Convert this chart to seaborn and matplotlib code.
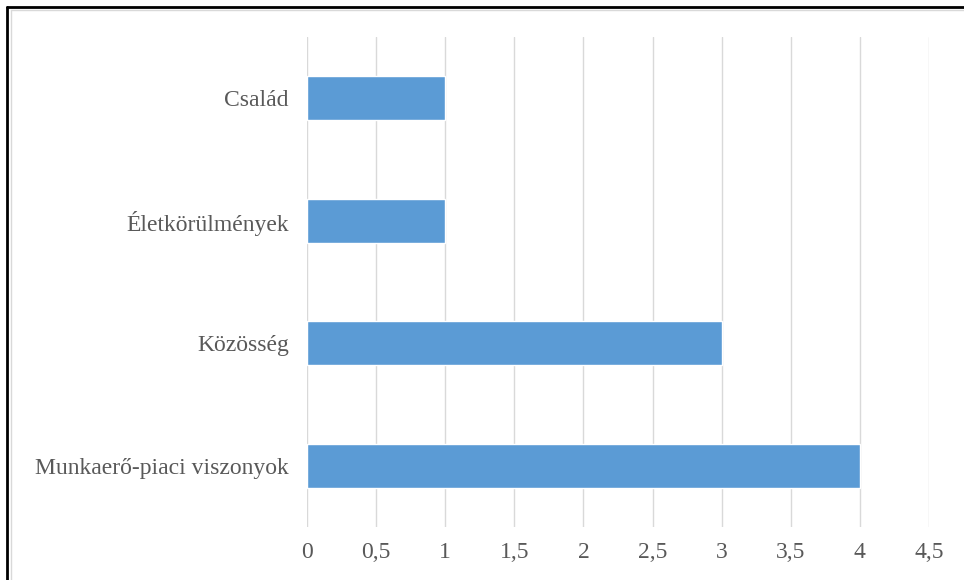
import matplotlib.pyplot as plt
import seaborn as sns
import pandas as pd
from matplotlib.lines import Line2D

categories = ["Család", "Életkörülmények", "Közösség", "Munkaerő-piaci viszonyok"]
values = [1, 1, 3, 4]
xticks = [0, 0.5, 1, 1.5, 2, 2.5, 3, 3.5, 4, 4.5]
xticklabels = ["0", "0,5", "1", "1,5", "2", "2,5", "3", "3,5", "4", "4,5"]

df = pd.DataFrame({"kategoria": categories, "ertek": values})

sns.set_style("white")
plt.rcParams['font.family'] = ['Liberation Serif', 'DejaVu Serif']

fig = plt.figure(figsize=(9.64, 5.8), dpi=100)
ax = fig.add_axes([307/964, 1-527/580, (929-307)/964, (527-37)/580])

sns.barplot(data=df, x="ertek", y="kategoria", color="#5B9BD5", saturation=1,
            width=0.357, ax=ax, zorder=3)

ax.set_xlim(0, 4.5)
ax.set_xticks(xticks)
ax.set_xticklabels(xticklabels)
ax.grid(axis="x", color="#D9D9D9", linewidth=1, zorder=0)
ax.set_axisbelow(True)
for s in ax.spines.values():
    s.set_visible(False)
ax.set_xlabel("")
ax.set_ylabel("")
ax.tick_params(axis="both", length=0, labelsize=17, labelcolor="#595959")
ax.tick_params(axis="x", pad=11)
ax.tick_params(axis="y", pad=13)

# outer frame of the picture
fig.add_artist(Line2D([7/964, 7/964], [0, 1-7/580], transform=fig.transFigure, color="black", lw=2))
fig.add_artist(Line2D([7/964, 1], [1-7/580, 1-7/580], transform=fig.transFigure, color="black", lw=2))
fig.add_artist(Line2D([11/964, 11/964], [0, 1-10/580], transform=fig.transFigure, color="#D9D9D9", lw=1))
fig.add_artist(Line2D([11/964, 1], [1-10/580, 1-10/580], transform=fig.transFigure, color="#D9D9D9", lw=1))

plt.savefig("out.png", dpi=100)
